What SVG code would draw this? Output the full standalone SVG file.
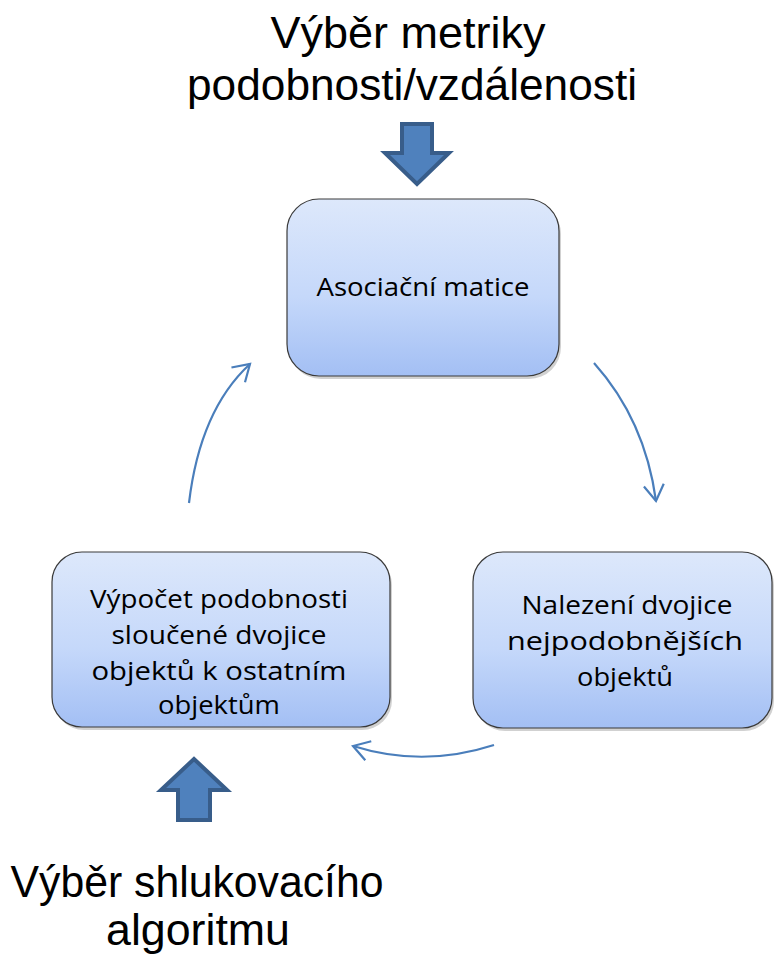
<svg xmlns="http://www.w3.org/2000/svg" width="774" height="956" viewBox="0 0 774 956">
<style>
.title{font-family:"Liberation Sans","Open Sans",sans-serif;font-size:45px;fill:#000;text-anchor:middle}
.lbl{font-family:"Open Sans","Noto Sans",sans-serif;font-size:26px;fill:#000;text-anchor:middle}
.box{fill:url(#g);stroke:#3a3a3a;stroke-width:1.2}
.shadow{fill:#000;opacity:0.18}
.fat{fill:#4f81bd;stroke:#385d8a;stroke-width:4;stroke-linejoin:miter}
.conn{fill:none;stroke:#4a7ebb;stroke-width:2.2;marker-end:url(#ah)}
</style>
<defs>
<linearGradient id="g" x1="0" y1="0" x2="0" y2="1">
<stop offset="0" stop-color="#dde8fb"/>
<stop offset="0.55" stop-color="#c5d8fa"/>
<stop offset="1" stop-color="#a3bff4"/>
</linearGradient>
<marker id="ah" markerUnits="userSpaceOnUse" markerWidth="30" markerHeight="30" refX="0" refY="0" viewBox="-20 -15 25 30" orient="auto">
<path d="M-16,-10 L0,0 L-16,10" fill="none" stroke="#4a7ebb" stroke-width="2.2"/>
</marker>
</defs>

<g id="title-top">
<text class="title" x="408" y="48" textLength="275" lengthAdjust="spacingAndGlyphs">Výběr metriky</text>
<text class="title" x="412" y="100" textLength="450" lengthAdjust="spacingAndGlyphs">podobnosti/vzdálenosti</text>
</g>

<g id="title-bottom">
<text class="title" x="197" y="897" textLength="373" lengthAdjust="spacingAndGlyphs">Výběr shlukovacího</text>
<text class="title" x="198" y="945" textLength="184" lengthAdjust="spacingAndGlyphs">algoritmu</text>
</g>

<g id="arrow-down">
<path class="fat" d="M402,124 L432,124 L432,153 L449,153 L417,184 L385,153 L402,153 Z"/>
</g>

<g id="arrow-up">
<path class="fat" d="M178,820 L210,820 L210,790 L227,790 L194,759 L161,790 L178,790 Z"/>
</g>

<g id="node-asociacni">
<rect class="shadow" x="289" y="202" width="272" height="177" rx="32"/>
<rect class="box" x="287" y="199" width="272" height="177" rx="32"/>
<text class="lbl" x="423" y="296" textLength="213" lengthAdjust="spacingAndGlyphs">Asociační matice</text>
</g>

<g id="node-vypocet">
<rect class="shadow" x="54" y="555" width="338" height="175" rx="30"/>
<rect class="box" x="52" y="552" width="338" height="175" rx="30"/>
<text class="lbl" x="219" y="608" textLength="258" lengthAdjust="spacingAndGlyphs">Výpočet podobnosti</text>
<text class="lbl" x="219" y="644" textLength="215" lengthAdjust="spacingAndGlyphs">sloučené dvojice</text>
<text class="lbl" x="219" y="680" textLength="255" lengthAdjust="spacingAndGlyphs">objektů k ostatním</text>
<text class="lbl" x="219" y="714" textLength="122" lengthAdjust="spacingAndGlyphs">objektům</text>
</g>

<g id="node-nalezeni">
<rect class="shadow" x="475" y="555" width="299" height="176" rx="30"/>
<rect class="box" x="473" y="552" width="299" height="176" rx="30"/>
<text class="lbl" x="627" y="614" textLength="211" lengthAdjust="spacingAndGlyphs">Nalezení dvojice</text>
<text class="lbl" x="625" y="650" textLength="236" lengthAdjust="spacingAndGlyphs">nejpodobnějších</text>
<text class="lbl" x="625" y="686" textLength="96" lengthAdjust="spacingAndGlyphs">objektů</text>
</g>

<g id="connectors">
<path class="conn" d="M189,503 Q200,410 250,364"/>
<path class="conn" d="M594,363 Q645,420 656,501"/>
<path class="conn" d="M494,745 Q423,768 353,746"/>
</g>
</svg>
